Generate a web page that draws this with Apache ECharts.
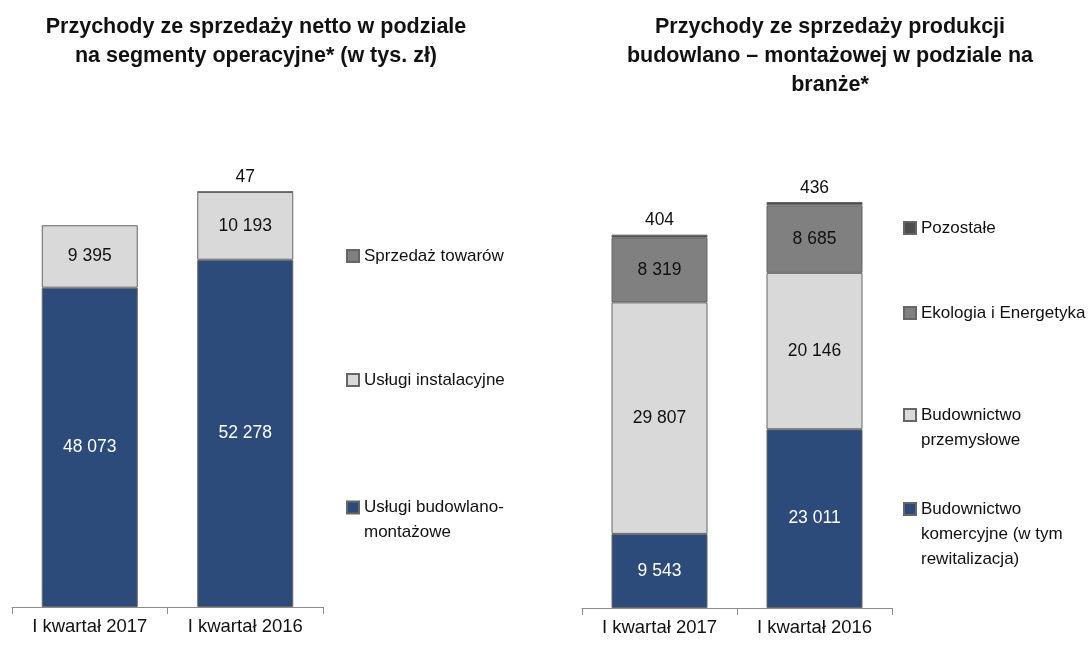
<!DOCTYPE html>
<html>
<head>
<meta charset="utf-8">
<script src="https://cdn.jsdelivr.net/npm/echarts@6/dist/echarts.min.js"></script>
<style>
  html, body { margin: 0; padding: 0; background: #fff; }
  #chart { width: 1089px; height: 645px; }
</style>
</head>
<body>
<div id="chart"></div>
<script>
// kategorie (wspólne dla obu wykresów)
const categories = ['I kwartał 2017', 'I kwartał 2016'];

// lewy wykres: segmenty operacyjne (tys. zł)
const uslugiBudowlane = [48073, 52278];
const uslugiInstalacyjne = [9395, 10193];
const sprzedazTowarow = [null, 47];

// prawy wykres: branże
const budKomercyjne = [9543, 23011];
const budPrzemyslowe = [29807, 20146];
const ekologia = [8319, 8685];
const pozostale = [404, 436];

const FONT = "'Liberation Sans', Arial, sans-serif";
const BLUE = '#2c4a7a';
const LIGHT = '#d9d9d9';
const MID = '#808080';
const DARK = '#4d4d4d';
const EDGE = '#666666';

const fmt = v => String(v).replace(/\B(?=(\d{3})+(?!\d))/g, ' ');

function bar(name, data, color, xIdx, labelColor, pos) {
  return {
    name: name,
    type: 'bar',
    stack: 's' + xIdx,
    xAxisIndex: xIdx,
    yAxisIndex: xIdx,
    barWidth: 96,
    data: data,
    itemStyle: { color: color, borderColor: EDGE, borderWidth: 1 },
    label: {
      show: true,
      position: pos || 'inside',
      distance: 5,
      color: labelColor,
      fontFamily: FONT,
      fontSize: 17.5,
      formatter: p => (p.value == null ? '' : fmt(p.value))
    }
  };
}

// jedna legenda na pozycję, żeby odtworzyć nierówne odstępy;
// puste linie na początku ustawiają znacznik przy pierwszej linii tekstu
function leg(name, lines, left, top) {
  const pad = new Array(lines.length).join('\n');
  return {
    data: [name],
    left: left,
    top: top,
    padding: 0,
    itemWidth: 12,
    itemHeight: 12,
    icon: 'rect',
    selectedMode: false,
    formatter: pad + lines.join('\n'),
    textStyle: { fontFamily: FONT, fontSize: 17, color: '#111', lineHeight: 25 }
  };
}

const xAx = (idx) => ({
  type: 'category',
  gridIndex: idx,
  data: categories,
  axisLine: { lineStyle: { color: '#8c8c8c', width: 1 } },
  axisTick: { show: true, length: 7, lineStyle: { color: '#8c8c8c' } },
  axisLabel: { interval: 0, fontFamily: FONT, fontSize: 18.5, color: '#111', margin: 10 }
});

const titleStyle = { fontFamily: FONT, fontSize: 21.5, fontWeight: 'bold', color: '#111', lineHeight: 29 };

const chart = echarts.init(document.getElementById('chart'));
chart.setOption({
  animation: false,
  title: [
    {
      text: 'Przychody ze sprzedaży netto w podziale\nna segmenty operacyjne* (w tys. zł)',
      left: 251, top: 8, textAlign: 'center',
      textStyle: titleStyle
    },
    {
      text: 'Przychody ze sprzedaży produkcji\nbudowlano – montażowej w podziale na\nbranże*',
      left: 825, top: 8, textAlign: 'center',
      textStyle: titleStyle
    }
  ],
  legend: [
    leg('Sprzedaż towarów', ['Sprzedaż towarów'], 346, 243.5),
    leg('Usługi instalacyjne', ['Usługi instalacyjne'], 346, 367.5),
    leg('Usługi budowlano-montażowe', ['Usługi budowlano-', 'montażowe'], 346, 470),
    leg('Pozostałe', ['Pozostałe'], 903, 215.5),
    leg('Ekologia i Energetyka', ['Ekologia i Energetyka'], 903, 300.5),
    leg('Budownictwo przemysłowe', ['Budownictwo', 'przemysłowe'], 903, 377.5),
    leg('Budownictwo komercyjne (w tym rewitalizacja)', ['Budownictwo', 'komercyjne (w tym', 'rewitalizacja)'], 903, 446.5)
  ],
  grid: [
    { left: 12, width: 311, top: 142, bottom: 38 },
    { left: 582, width: 310, top: 142, bottom: 37 }
  ],
  xAxis: [xAx(0), xAx(1)],
  yAxis: [
    { type: 'value', gridIndex: 0, min: 0, max: 70000, show: false, splitLine: { show: false } },
    { type: 'value', gridIndex: 1, min: 0, max: 60000, show: false, splitLine: { show: false } }
  ],
  series: [
    bar('Usługi budowlano-montażowe', uslugiBudowlane, BLUE, 0, '#fff'),
    bar('Usługi instalacyjne', uslugiInstalacyjne, LIGHT, 0, '#111'),
    bar('Sprzedaż towarów', sprzedazTowarow, MID, 0, '#111', 'top'),
    bar('Budownictwo komercyjne (w tym rewitalizacja)', budKomercyjne, BLUE, 1, '#fff'),
    bar('Budownictwo przemysłowe', budPrzemyslowe, LIGHT, 1, '#111'),
    bar('Ekologia i Energetyka', ekologia, MID, 1, '#111'),
    bar('Pozostałe', pozostale, DARK, 1, '#111', 'top')
  ]
});
</script>
</body>
</html>
